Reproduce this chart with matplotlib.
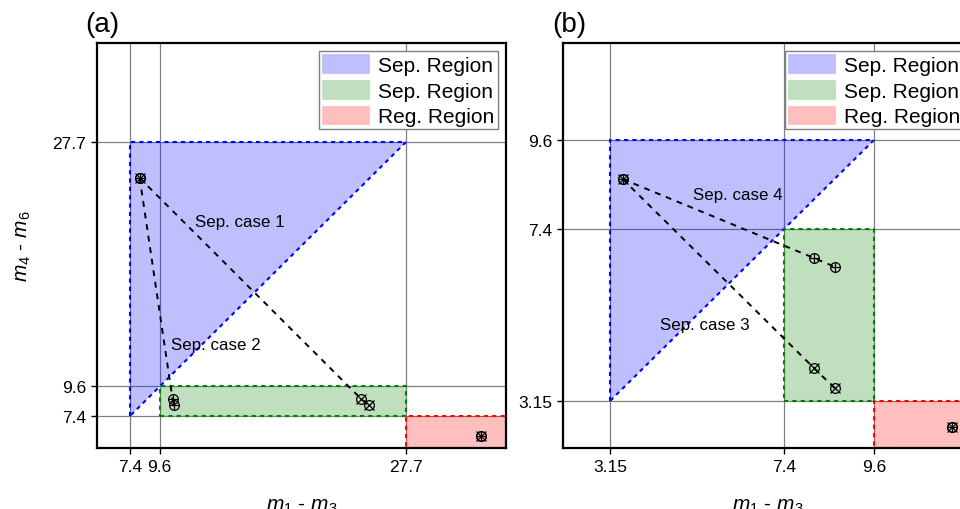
import matplotlib
matplotlib.use('Agg')
import matplotlib.pyplot as plt
from matplotlib.patches import Polygon, Rectangle

plt.rcParams['font.family'] = 'Liberation Sans'
plt.rcParams['mathtext.fontset'] = 'custom'
plt.rcParams['mathtext.rm'] = 'Liberation Sans'
plt.rcParams['mathtext.it'] = 'Liberation Sans:italic'

# panel (a)
a_lim = (5, 35)
a_ticks = [7.4, 9.6, 27.7]
a_tri = [(7.4, 7.4), (7.4, 27.7), (27.7, 27.7)]
a_green = (9.6, 27.7, 7.4, 9.6)      # x0, x1, y0, y1
a_red = (27.7, 35, 5, 7.4)
a_start = (8.13, 25.0)
a_case_x = ([24.37, 24.93], [8.64, 8.2])   # circled x
a_case_p = ([10.54, 10.62], [8.64, 8.2])   # circled +
a_reg = (33.2, 5.9)
a_text = [('Sep. case 1', 12.2, 21.8), ('Sep. case 2', 10.4, 12.7)]

# panel (b)
b_lim = (2, 12)
b_ticks = [3.15, 7.4, 9.6]
b_tri = [(3.15, 3.15), (3.15, 9.6), (9.6, 9.6)]
b_green = (7.4, 9.6, 3.15, 7.4)
b_red = (9.6, 12, 2, 3.15)
b_start = (3.46, 8.64)
b_case_x = ([8.14, 8.65], [3.97, 3.47])    # circled x
b_case_p = ([8.14, 8.65], [6.69, 6.47])    # circled +
b_reg = (11.52, 2.52)
b_text = [('Sep. case 4', 5.18, 8.27), ('Sep. case 3', 4.38, 5.06)]

legend_labels = ['Sep. Region', 'Sep. Region', 'Reg. Region']

BLUE = (0, 0, 1, 0.25)
GREEN = (0, 0.5, 0, 0.25)
RED = (1, 0, 0, 0.25)


def marker(ax, xs, ys, kind):
    ax.plot(xs, ys, 'o', mfc='none', mec='black', ms=7, mew=0.9, zorder=5)
    ax.plot(xs, ys, kind, color='black', ms=7, mew=0.9, zorder=5)


def box(ax, r, fc, ec):
    x0, x1, y0, y1 = r
    ax.add_patch(Rectangle((x0, y0), x1 - x0, y1 - y0, facecolor=fc, edgecolor=ec,
                           ls=(0, (2, 2)), lw=1.5, zorder=1))


def draw_panel(ax, lim, ticks, tri, green, red, start, case_x, case_p, reg, texts, ylabel=True):
    ax.set_xlim(lim)
    ax.set_ylim(lim)
    ax.set_xticks(ticks)
    ax.set_yticks(ticks)
    ax.set_xticklabels([str(t) for t in ticks])
    ax.set_yticklabels([str(t) for t in ticks])
    ax.grid(True, color='#808080', lw=0.9, zorder=0)
    ax.set_axisbelow(True)

    ax.add_patch(Polygon(tri, closed=True, facecolor=BLUE, edgecolor='blue',
                         ls=(0, (2, 2)), lw=1.5, zorder=1))
    box(ax, green, GREEN, 'green')
    box(ax, red, RED, 'red')

    for xs, ys in [case_x, case_p]:
        ax.plot([start[0]] + xs, [start[1]] + ys, color='black', ls=(0, (3, 3)), lw=1.4, zorder=4)
    marker(ax, case_x[0], case_x[1], 'x')
    marker(ax, case_p[0], case_p[1], '+')
    for k in ['x', '+']:
        marker(ax, [start[0]], [start[1]], k)
        marker(ax, [reg[0]], [reg[1]], k)

    for s, x, y in texts:
        ax.text(x, y, s, fontsize=12.2, va='center', ha='left', zorder=6)

    h = [Rectangle((0, 0), 1, 1, facecolor=c, edgecolor=c[:3] + (0.1,)) for c in [BLUE, GREEN, RED]]
    leg = ax.legend(h, legend_labels, loc='upper right', fontsize=15, fancybox=False,
                    edgecolor='#808080', framealpha=1, borderpad=0.15, handlelength=2.25,
                    handleheight=1.0, handletextpad=0.45, labelspacing=0.25,
                    borderaxespad=0.4)
    leg.get_frame().set_linewidth(1.0)

    for sp in ax.spines.values():
        sp.set_linewidth(1.6)
    ax.tick_params(direction='out', length=4, width=1.0, labelsize=12.5, pad=4)
    ax.set_xlabel('$m_1$ - $m_3$', fontsize=15, labelpad=16)
    if ylabel:
        ax.set_ylabel('$m_4$ - $m_6$', fontsize=15, labelpad=14)


fig = plt.figure(figsize=(9.6, 5.1), dpi=100)
ax1 = fig.add_axes([97 / 960, 61 / 510, 409 / 960, 405 / 510])
ax2 = fig.add_axes([563 / 960, 61 / 510, 409 / 960, 405 / 510])

draw_panel(ax1, a_lim, a_ticks, a_tri, a_green, a_red, a_start, a_case_x, a_case_p, a_reg, a_text)
draw_panel(ax2, b_lim, b_ticks, b_tri, b_green, b_red, b_start, b_case_x, b_case_p, b_reg, b_text,
           ylabel=False)

fig.text(85 / 960, 1 - 25 / 510, '(a)', fontsize=20, va='center', ha='left')
fig.text(552 / 960, 1 - 25 / 510, '(b)', fontsize=20, va='center', ha='left')

fig.savefig('out.png', dpi=100)
